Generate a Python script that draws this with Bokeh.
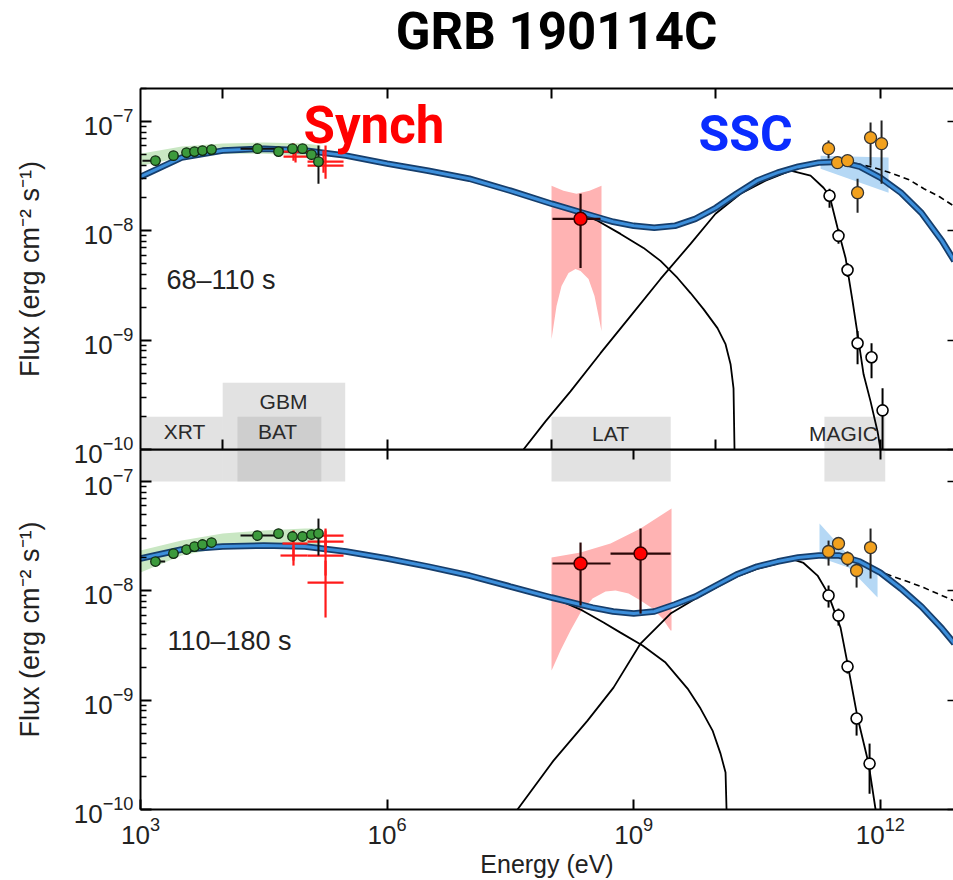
from bokeh.plotting import figure
from bokeh.models import FixedTicker, LogAxis, Range1d
from bokeh.layouts import column
from bokeh.embed import file_html
from bokeh.resources import INLINE
from bokeh.core.properties import value

# ---------------- data: log10(E / eV), log10(flux / erg cm^-2 s^-1) ----------------
MODEL_LOG_E = [3.0, 3.5, 4.0, 4.5, 5.0, 5.5, 6.0, 6.5, 7.0, 7.5, 8.0, 8.5, 8.75, 9.0, 9.25, 9.5,
               9.75, 10.0, 10.25, 10.5, 10.75, 11.0, 11.25, 11.5, 11.75, 12.0, 12.25, 12.5, 12.75, 12.9]
TOP_TOTAL = [-7.505, -7.330, -7.266, -7.248, -7.266, -7.312, -7.385, -7.450, -7.523, -7.633, -7.752,
             -7.862, -7.917, -7.954, -7.972, -7.954, -7.890, -7.789, -7.661, -7.541, -7.468, -7.413,
             -7.376, -7.367, -7.413, -7.514, -7.651, -7.835, -8.092, -8.275]
BOT_TOTAL = [-7.704, -7.622, -7.595, -7.586, -7.595, -7.640, -7.704, -7.778, -7.860, -7.961, -8.061,
             -8.153, -8.189, -8.208, -8.189, -8.125, -8.052, -7.951, -7.851, -7.778, -7.732, -7.695,
             -7.677, -7.677, -7.732, -7.833, -7.979, -8.144, -8.345, -8.482]

TOP_SYN_E = [3.0, 3.5, 4.0, 4.5, 5.0, 5.5, 6.0, 6.5, 7.0, 7.5, 8.0, 8.3, 8.56, 8.839, 9.119, 9.326,
             9.533, 9.691, 9.849, 10.019, 10.117, 10.178, 10.214, 10.226]
TOP_SYN_F = [-7.505, -7.330, -7.266, -7.248, -7.266, -7.312, -7.385, -7.450, -7.523, -7.633, -7.755,
             -7.830, -7.908, -8.028, -8.156, -8.275, -8.431, -8.569, -8.716, -8.890, -9.037, -9.220,
             -9.440, -10.0]
BOT_SYN_E = [3.0, 3.5, 4.0, 4.5, 5.0, 5.5, 6.0, 6.5, 7.0, 7.5, 8.0, 8.195, 8.353, 8.633, 8.839, 9.107,
             9.387, 9.655, 9.813, 9.959, 10.056, 10.117, 10.129]
BOT_SYN_F = [-7.704, -7.622, -7.595, -7.586, -7.595, -7.640, -7.704, -7.778, -7.860, -7.961, -8.061,
             -8.120, -8.171, -8.290, -8.382, -8.500, -8.656, -8.894, -9.077, -9.278, -9.489, -9.662, -10.0]

TOP_SSC_E = [7.659, 7.927, 8.231, 8.596, 8.961, 9.326, 9.691, 9.995, 10.299, 10.603, 10.908, 11.151,
             11.309, 11.382, 11.479, 11.577, 11.662, 11.723, 11.796, 11.881, 11.966, 12.002]
TOP_SSC_F = [-10.0, -9.743, -9.468, -9.119, -8.780, -8.440, -8.119, -7.844, -7.661, -7.541, -7.450,
             -7.495, -7.606, -7.679, -7.972, -8.248, -8.642, -8.945, -9.312, -9.560, -9.835, -10.0]
BOT_SSC_E = [7.586, 8.024, 8.438, 8.754, 9.083, 9.448, 9.776, 10.25, 10.5, 10.75, 10.908, 11.066,
             11.236, 11.358, 11.516, 11.601, 11.723, 11.857, 11.942]
BOT_SSC_F = [-10.0, -9.553, -9.187, -8.885, -8.482, -8.208, -8.061, -7.870, -7.800, -7.750, -7.705,
             -7.745, -7.860, -8.016, -8.336, -8.665, -9.159, -9.580, -10.0]

TOP_DASH_E = [11.70, 11.88, 12.12, 12.35, 12.53, 12.72, 12.89]
TOP_DASH_F = [-7.385, -7.413, -7.468, -7.532, -7.615, -7.688, -7.771]
BOT_DASH_E = [11.723, 11.92, 12.124, 12.33, 12.526, 12.891]
BOT_DASH_F = [-7.750, -7.805, -7.860, -7.915, -7.970, -8.089]

# MAGIC observed (open) and EBL-corrected (orange) points
TOP_OPEN_E = [11.382, 11.491, 11.601, 11.723, 11.893, 12.027]
TOP_OPEN_F = [-7.679, -8.046, -8.358, -9.028, -9.156, -9.642]
TOP_OPEN_LO = [-7.789, -8.119, -8.422, -9.220, -9.349, -10.0]
TOP_OPEN_HI = [-7.615, -7.982, -8.294, -8.917, -9.028, -9.440]
BOT_OPEN_E = [11.370, 11.491, 11.601, 11.711, 11.869]
BOT_OPEN_F = [-8.043, -8.226, -8.693, -9.168, -9.580]
BOT_OPEN_LO = [-8.153, -8.318, -8.757, -9.324, -9.855]
BOT_OPEN_HI = [-7.951, -8.162, -8.638, -9.123, -9.397]

TOP_ORG_E = [11.370, 11.479, 11.601, 11.723, 11.881, 12.015]
TOP_ORG_F = [-7.248, -7.376, -7.358, -7.651, -7.147, -7.202]
TOP_ORG_LO = [-7.339, -7.376, -7.358, -7.835, -7.404, -7.569]
TOP_ORG_HI = [-7.174, -7.376, -7.358, -7.523, -7.009, -6.991]
BOT_ORG_E = [11.370, 11.491, 11.601, 11.711, 11.881]
BOT_ORG_F = [-7.640, -7.567, -7.704, -7.814, -7.604]
BOT_ORG_LO = [-7.769, -7.567, -7.777, -7.970, -7.887]
BOT_ORG_HI = [-7.540, -7.567, -7.640, -7.769, -7.430]

# MAGIC butterflies
TOP_MAGBAND_E = [11.273, 12.100, 12.100, 11.273]
TOP_MAGBAND_F = [-7.312, -7.330, -7.651, -7.431]
BOT_MAGBAND_E = [11.260, 11.613, 11.966, 11.966, 11.613, 11.260]
BOT_MAGBAND_F = [-7.384, -7.677, -7.787, -8.061, -7.787, -7.695]

# LAT points and butterflies
TOP_LAT_E, TOP_LAT_F = [8.353], [-7.890]
TOP_LAT_ELO, TOP_LAT_EHI = [8.012], [8.596]
TOP_LAT_FLO, TOP_LAT_FHI = [-8.339], [-7.661]
BOT_LAT_E, BOT_LAT_F = [8.353, 9.083], [-7.750, -7.659]
BOT_LAT_ELO, BOT_LAT_EHI = [8.012, 8.718], [8.718, 9.448]
BOT_LAT_FLO, BOT_LAT_FHI = [-8.134, -8.208], [-7.558, -7.430]

TOP_LATBAND_E = [8.0, 8.146, 8.304, 8.462, 8.608, 8.608, 8.572, 8.523, 8.450, 8.353, 8.292, 8.207,
                 8.122, 8.061, 8.024, 8.0]
TOP_LATBAND_F = [-7.587, -7.633, -7.661, -7.633, -7.587, -8.917, -8.780, -8.596, -8.440, -8.367,
                 -8.349, -8.385, -8.505, -8.688, -8.872, -8.991]
BOT_LATBAND_E = [8.0, 8.353, 8.718, 9.083, 9.460, 9.460, 9.448, 9.350, 9.229, 9.083, 8.937, 8.779,
                 8.657, 8.499, 8.353, 8.231, 8.109, 8.012, 8.0]
BOT_LATBAND_F = [-7.695, -7.650, -7.567, -7.430, -7.247, -8.363, -8.363, -8.253, -8.162, -8.089,
                 -8.025, -7.997, -8.006, -8.070, -8.199, -8.363, -8.546, -8.711, -8.729]

# XRT / BAT points (green)
GREEN_E = [3.182, 3.401, 3.560, 3.657, 3.754, 3.864, 4.423, 4.679, 4.849, 4.971, 5.080, 5.165]
TOP_GREEN_F = [-7.358, -7.312, -7.284, -7.275, -7.266, -7.257, -7.248, -7.275, -7.248, -7.248,
               -7.303, -7.367]
BOT_GREEN_F = [-7.732, -7.659, -7.622, -7.595, -7.576, -7.558, -7.494, -7.476, -7.503, -7.503,
               -7.485, -7.476]
TOP_GREEN_XERR_E = [(3.024, 3.243), (4.217, 4.740)]
TOP_GREEN_XERR_F = [-7.358, -7.248]
TOP_GREEN_YERR = (5.165, -7.569, -7.220)
BOT_GREEN_XERR_E = [(3.182, 3.300), (4.217, 4.703)]
BOT_GREEN_XERR_F = [-7.732, -7.494]
BOT_GREEN_YERR = (5.165, -7.677, -7.339)

GBAND_E = [3.0, 3.5, 4.0, 4.5, 5.0, 5.19, 5.19, 5.0, 4.5, 4.0, 3.5, 3.0]
TOP_GBAND_F = [-7.294, -7.229, -7.202, -7.193, -7.202, -7.220, -7.358, -7.312, -7.294, -7.294,
               -7.330, -7.404]
BOT_GBAND_F = [-7.631, -7.540, -7.476, -7.448, -7.430, -7.430, -7.586, -7.586, -7.586, -7.604,
               -7.677, -7.833]

# GBM points (red crosses)
TOP_GBM_E = [4.861, 4.886, 5.251, 5.226]
TOP_GBM_F = [-7.275, -7.321, -7.367, -7.404]
TOP_GBM_ELO = [4.727, 4.740, 5.032, 5.032]
TOP_GBM_EHI = [5.105, 5.032, 5.470, 5.470]
TOP_GBM_FLO = [-7.358, -7.376, -7.523, -7.468]
TOP_GBM_FHI = [-7.202, -7.248, -7.220, -7.266]
BOT_GBM_E = [4.861, 4.861, 5.251, 5.251, 5.251, 5.251]
BOT_GBM_F = [-7.567, -7.677, -7.494, -7.549, -7.677, -7.924]
BOT_GBM_ELO = [4.727, 4.703, 5.032, 5.032, 5.032, 5.032]
BOT_GBM_EHI = [5.032, 5.032, 5.470, 5.470, 5.470, 5.470]
BOT_GBM_FLO = [-7.723, -7.769, -7.586, -7.650, -7.860, -8.244]
BOT_GBM_FHI = [-7.448, -7.586, -7.430, -7.448, -7.540, -7.723]

# instrument energy bands
INSTR = ["XRT", "GBM", "BAT", "LAT", "MAGIC"]
INSTR_E_LO = [2.5, 4.0, 4.18, 8.0, 11.32]
INSTR_E_HI = [4.0, 5.49, 5.20, 9.45, 12.06]
INSTR_TOP_TOP = [-9.70, -9.39, -9.70, -9.70, -9.70]

TITLE = "GRB 190114C"

X_LOG_MIN, X_LOG_MAX = 3.0, 12.89
TOP_Y_LOG_MAX, BOT_Y_LOG_MAX = -6.698, -6.707

FONT = "Liberation Sans"
OVERLAP = 20
TITLE_H = 88


def pw(a):
    return [10.0 ** v for v in a]


XR = Range1d(10 ** X_LOG_MIN, 10 ** X_LOG_MAX)
Y_MAJOR = [1e-10, 1e-9, 1e-8, 1e-7]
Y_MINOR = [k * 10.0 ** e for e in range(-10, -6) for k in range(2, 10)]


def hide_labels(ax):
    ax.major_label_text_font_size = "1px"
    ax.major_label_text_alpha = 0
    ax.major_label_standoff = 0


def tick_only_axis(ticks, side_len=10):
    ax = LogAxis(ticker=FixedTicker(ticks=ticks, minor_ticks=[]),
                 axis_line_color="black", axis_line_width=2,
                 major_tick_in=side_len, major_tick_out=0, major_tick_line_width=2,
                 minor_tick_in=0, minor_tick_out=0)
    hide_labels(ax)
    return ax


def make_fig(height, ytop, b_top, b_bottom, xticks_top, xticks_bottom, label_bottom):
    p = figure(width=953, height=height, x_axis_type="log", y_axis_type="log",
               x_range=XR, y_range=Range1d(1e-10, 10 ** ytop),
               output_backend="svg", toolbar_location=None,
               min_border_left=140, min_border_right=0,
               min_border_top=b_top, min_border_bottom=b_bottom)
    p.outline_line_color = None
    p.xgrid.visible = False
    p.ygrid.visible = False

    ya = p.yaxis[0]
    ya.ticker = FixedTicker(ticks=Y_MAJOR, minor_ticks=Y_MINOR)
    ya.axis_line_width = 2
    ya.major_tick_in = 11
    ya.major_tick_out = 0
    ya.major_tick_line_width = 2
    ya.minor_tick_in = 6
    ya.minor_tick_out = 0
    ya.minor_tick_line_width = 1.5
    ya.major_label_text_font = FONT
    ya.major_label_text_font_size = "26px"
    ya.major_label_text_color = "#222222"
    ya.major_label_standoff = 7
    ya.axis_label = "Flux (erg cm\u207b\u00b2 s\u207b\u00b9)"
    ya.axis_label_text_font = FONT
    ya.axis_label_text_font_size = "27px"
    ya.axis_label_text_font_style = "normal"
    ya.axis_label_text_color = "#222222"
    ya.axis_label_standoff = 26

    xa = p.xaxis[0]
    xa.ticker = FixedTicker(ticks=xticks_bottom, minor_ticks=[])
    xa.axis_line_width = 2
    xa.major_tick_in = 10
    xa.major_tick_out = 0
    xa.major_tick_line_width = 2
    xa.minor_tick_in = 0
    xa.minor_tick_out = 0
    if label_bottom:
        xa.major_label_text_font = FONT
        xa.major_label_text_font_size = "26px"
        xa.major_label_text_color = "#222222"
        xa.major_label_standoff = 7
        xa.axis_label = "Energy (eV)"
        xa.axis_label_text_font = FONT
        xa.axis_label_text_font_size = "25px"
        xa.axis_label_text_font_style = "normal"
        xa.axis_label_text_color = "#222222"
        xa.axis_label_standoff = 3
    else:
        hide_labels(xa)

    p.add_layout(tick_only_axis(xticks_top), "above")
    ra = LogAxis(ticker=FixedTicker(ticks=Y_MAJOR, minor_ticks=[]),
                 axis_line_color=None, major_tick_in=6, major_tick_out=0,
                 major_tick_line_width=1.5, minor_tick_in=0, minor_tick_out=0)
    hide_labels(ra)
    p.add_layout(ra, "right")
    return p


def draw_panel(p, boxes_bottom, boxes_top, gband_f, green_f, gx_e, gx_f, gy,
               gbm, latband, lat, magband, dash, syn, ssc, total, opn, org, label_text, label_pos):
    # instrument bands
    p.quad(left=pw(INSTR_E_LO), right=pw(INSTR_E_HI), bottom=pw(boxes_bottom), top=pw(boxes_top),
           fill_color="#a8a8a8", fill_alpha=0.33, line_color=None)
    # shaded bands
    p.patch(pw(GBAND_E), pw(gband_f), fill_color="#c9e7c3", line_color=None)
    p.patch(pw(latband[0]), pw(latband[1]), fill_color="#ffb3b3", line_color=None)
    p.patch(pw(magband[0]), pw(magband[1]), fill_color="#b5d8f5", line_color=None)
    # model components
    p.line(pw(syn[0]), pw(syn[1]), line_color="black", line_width=1.8)
    p.line(pw(ssc[0]), pw(ssc[1]), line_color="black", line_width=1.8)
    p.line(pw(dash[0]), pw(dash[1]), line_color="black", line_width=1.6, line_dash="6 4")
    p.line(pw(MODEL_LOG_E), pw(total), line_color="#163e6c", line_width=6.5)
    p.line(pw(MODEL_LOG_E), pw(total), line_color="#3d8fdb", line_width=3)
    # GBM crosses
    e, f, elo, ehi, flo, fhi = gbm
    p.segment(x0=pw(elo), x1=pw(ehi), y0=pw(f), y1=pw(f), line_color="#ff1a1a", line_width=2.2)
    p.segment(x0=pw(e), x1=pw(e), y0=pw(flo), y1=pw(fhi), line_color="#ff1a1a", line_width=2.2)
    # XRT/BAT points
    p.segment(x0=pw([a for a, b in gx_e]), x1=pw([b for a, b in gx_e]), y0=pw(gx_f), y1=pw(gx_f),
              line_color="#111111", line_width=2)
    p.segment(x0=pw([gy[0]]), x1=pw([gy[0]]), y0=pw([gy[1]]), y1=pw([gy[2]]),
              line_color="#111111", line_width=2)
    p.scatter(pw(GREEN_E), pw(green_f), size=9.5, fill_color="#3c9a3c", line_color="#102a10",
              line_width=1.3)
    # LAT points
    e, f, elo, ehi, flo, fhi = lat
    p.segment(x0=pw(elo), x1=pw(ehi), y0=pw(f), y1=pw(f), line_color="#2a0808", line_width=2.2)
    p.segment(x0=pw(e), x1=pw(e), y0=pw(flo), y1=pw(fhi), line_color="#2a0808", line_width=2.2)
    p.scatter(pw(e), pw(f), size=13, fill_color="#ff0000", line_color="#3a0000", line_width=1.5)
    # MAGIC points
    e, f, lo, hi = opn
    p.segment(x0=pw(e), x1=pw(e), y0=pw(lo), y1=pw(hi), line_color="black", line_width=2)
    p.scatter(pw(e), pw(f), size=11, fill_color="white", line_color="black", line_width=1.6)
    e, f, lo, hi = org
    p.segment(x0=pw(e), x1=pw(e), y0=pw(lo), y1=pw(hi), line_color="#222222", line_width=2)
    p.scatter(pw(e), pw(f), size=12, fill_color="#f2a11e", line_color="#333333", line_width=1.3)
    # time label
    p.text(x=[10 ** label_pos[0]], y=[10 ** label_pos[1]], text=[label_text],
           text_font=value(FONT), text_font_size="27px", text_color="#222222",
           text_align="left", text_baseline="middle")


# ---------------- title strip ----------------
head = figure(width=953, height=TITLE_H, x_range=Range1d(0, 1), y_range=Range1d(0, 1),
              x_axis_location=None, y_axis_location=None, output_backend="svg",
              toolbar_location=None, min_border=0, outline_line_color=None)
head.grid.visible = False
head.text(x=[0.5117], y=[0.653], text=[TITLE], text_font=value("Roboto"),
          text_font_size="51px", text_font_style="bold", text_color="black",
          text_align="center", text_baseline="middle")

# ---------------- top panel ----------------
top = make_fig(449 + OVERLAP, TOP_Y_LOG_MAX, TITLE_H, OVERLAP,
               [1e4, 1e6, 1e8, 1e10, 1e12], [1e4, 1e6, 1e8, 1e10, 1e12], False)
top.border_fill_color = None
top.margin = (-TITLE_H, 0, 0, 0)

draw_panel(top, [-10.0] * 5, INSTR_TOP_TOP, TOP_GBAND_F, TOP_GREEN_F,
           TOP_GREEN_XERR_E, TOP_GREEN_XERR_F, TOP_GREEN_YERR,
           (TOP_GBM_E, TOP_GBM_F, TOP_GBM_ELO, TOP_GBM_EHI, TOP_GBM_FLO, TOP_GBM_FHI),
           (TOP_LATBAND_E, TOP_LATBAND_F),
           (TOP_LAT_E, TOP_LAT_F, TOP_LAT_ELO, TOP_LAT_EHI, TOP_LAT_FLO, TOP_LAT_FHI),
           (TOP_MAGBAND_E, TOP_MAGBAND_F), (TOP_DASH_E, TOP_DASH_F),
           (TOP_SYN_E, TOP_SYN_F), (TOP_SSC_E, TOP_SSC_F), TOP_TOTAL,
           (TOP_OPEN_E, TOP_OPEN_F, TOP_OPEN_LO, TOP_OPEN_HI),
           (TOP_ORG_E, TOP_ORG_F, TOP_ORG_LO, TOP_ORG_HI),
           "68\u2013110 s", (3.316, -8.450))

# instrument names
top.text(x=pw([3.535, 4.740, 4.667, 8.718, 11.552]), y=pw([-9.835, -9.560, -9.835, -9.853, -9.853]),
         text=INSTR, text_font=value(FONT), text_font_size="21px", text_color="#2a2a2a",
         text_align="center", text_baseline="middle")
top.text(x=[10 ** 4.983], y=[10 ** -7.032], text=["Synch"], text_font=value("Roboto"),
         text_font_size="51px", text_font_style="bold", text_color="#ff0000",
         text_align="left", text_baseline="middle")
top.text(x=[10 ** 9.788], y=[10 ** -7.114], text=["SSC"], text_font=value("Roboto"),
         text_font_size="50px", text_font_style="bold", text_color="#0a2cff",
         text_align="left", text_baseline="middle")

# ---------------- bottom panel ----------------
bot = make_fig(431, BOT_Y_LOG_MAX, 0, 71, [1e6, 1e9, 1e12], [1e3, 1e6, 1e9, 1e12], True)
bot.border_fill_color = None
bot.background_fill_color = None
bot.margin = (-OVERLAP, 0, 0, 0)

draw_panel(bot, [-7.0] * 5, [-6.5] * 5, BOT_GBAND_F, BOT_GREEN_F,
           BOT_GREEN_XERR_E, BOT_GREEN_XERR_F, BOT_GREEN_YERR,
           (BOT_GBM_E, BOT_GBM_F, BOT_GBM_ELO, BOT_GBM_EHI, BOT_GBM_FLO, BOT_GBM_FHI),
           (BOT_LATBAND_E, BOT_LATBAND_F),
           (BOT_LAT_E, BOT_LAT_F, BOT_LAT_ELO, BOT_LAT_EHI, BOT_LAT_FLO, BOT_LAT_FHI),
           (BOT_MAGBAND_E, BOT_MAGBAND_F), (BOT_DASH_E, BOT_DASH_F),
           (BOT_SYN_E, BOT_SYN_F), (BOT_SSC_E, BOT_SSC_F), BOT_TOTAL,
           (BOT_OPEN_E, BOT_OPEN_F, BOT_OPEN_LO, BOT_OPEN_HI),
           (BOT_ORG_E, BOT_ORG_F, BOT_ORG_LO, BOT_ORG_HI),
           "110\u2013180 s", (3.328, -8.455))

layout = column(head, top, bot, spacing=0)
open("out.html", "w").write(file_html(layout, INLINE))
